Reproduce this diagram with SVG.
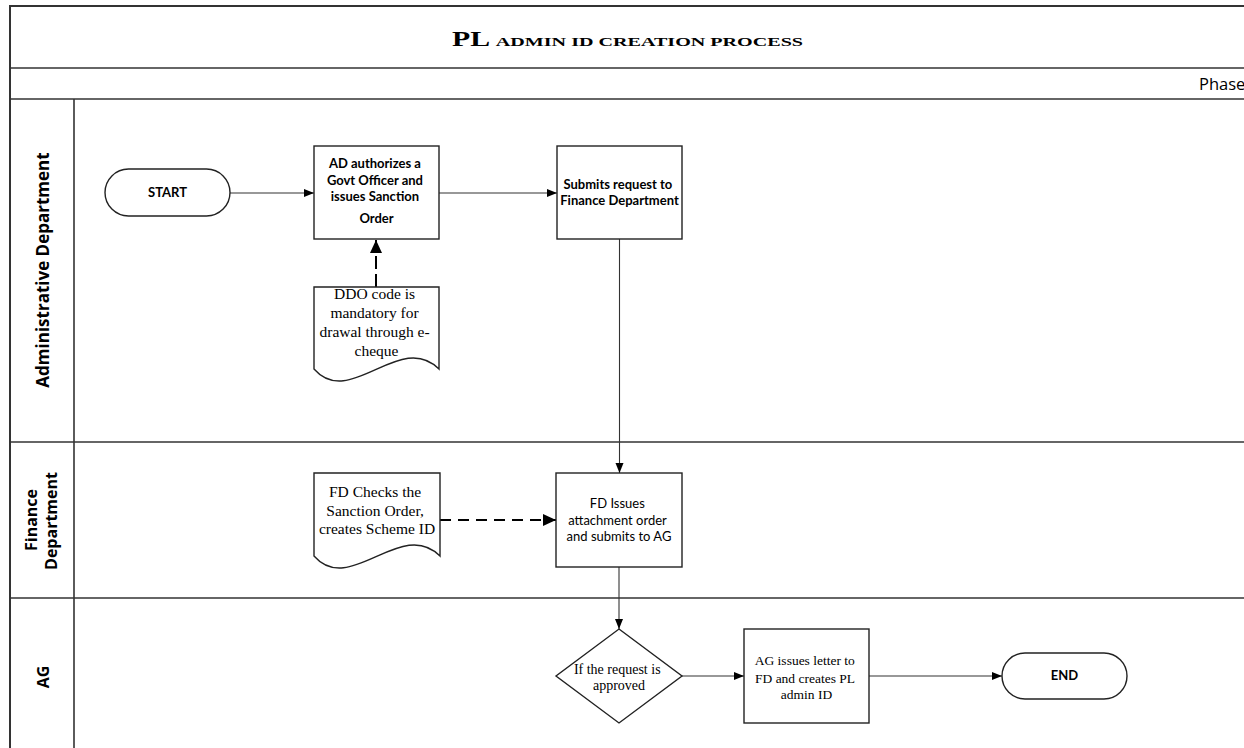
<svg xmlns="http://www.w3.org/2000/svg" width="1244" height="748" viewBox="0 0 1244 748">
  <defs>
    <marker id="arrow" markerUnits="userSpaceOnUse" markerWidth="10" markerHeight="10" viewBox="0 0 10 10" refX="10" refY="5" orient="auto">
      <path d="M0,1 L10,5 L0,9 Z" fill="#000"/>
    </marker>
    <marker id="arrowBig" markerUnits="userSpaceOnUse" markerWidth="13" markerHeight="13" viewBox="0 0 13 13" refX="13" refY="6.5" orient="auto">
      <path d="M0,0.5 L13,6.5 L0,12.5 Z" fill="#000"/>
    </marker>
    <style>
      .frame { fill: none; stroke: #333; stroke-width: 2; }
      .lane { fill: none; stroke: #333; stroke-width: 1.6; }
      .shape { fill: #fff; stroke: #222; stroke-width: 1.4; }
      .flow { fill: none; stroke: #333; stroke-width: 1.1; }
      .dash { fill: none; stroke: #000; stroke-width: 2; }
      .sans { font-family: Lato, "Open Sans", "Liberation Sans", sans-serif; fill: #000; }
      .bold { font-weight: bold; font-size: 13px; }
      .reg { font-size: 13px; }
      .serif { font-family: "Liberation Serif", "Times New Roman", serif; fill: #000; }
      .lbl { font-family: "Open Sans", Lato, "Liberation Sans", sans-serif; font-weight: bold; font-size: 16px; fill: #000; }
      .lbl-lg { font-size: 17px; }
    </style>
  </defs>

  <rect width="1244" height="748" fill="#fff"/>

  <!-- pool frame, title bar, phase bar and swimlanes -->
  <g id="pool">
    <rect class="frame" x="10" y="6" width="1250" height="760"/>
    <line class="lane" x1="10" y1="68" x2="1250" y2="68"/>
    <line class="lane" x1="10" y1="99" x2="1250" y2="99"/>
    <line class="lane" x1="74" y1="99" x2="74" y2="760"/>
    <line class="lane" x1="10" y1="442" x2="1250" y2="442"/>
    <line class="lane" x1="10" y1="598" x2="1250" y2="598"/>
    <text class="serif" x="452" y="46" font-weight="bold" textLength="351" lengthAdjust="spacingAndGlyphs"><tspan font-size="20">PL </tspan><tspan font-size="13.5">ADMIN ID CREATION PROCESS</tspan></text>
    <text x="1199" y="90" font-family="'Open Sans', Lato, sans-serif" font-size="16.5" fill="#000">Phase</text>
  </g>

  <g id="lane-admin">
    <text class="lbl lbl-lg" text-anchor="middle" transform="translate(49,270) rotate(-90)">Administrative Department</text>
  </g>
  <g id="lane-finance">
    <text class="lbl" text-anchor="middle" transform="translate(37,520) rotate(-90)">Finance</text>
    <text class="lbl" text-anchor="middle" transform="translate(57,521) rotate(-90)">Department</text>
  </g>
  <g id="lane-ag">
    <text class="lbl" text-anchor="middle" transform="translate(49,677) rotate(-90)">AG</text>
  </g>

  <!-- connectors -->
  <g id="connectors">
    <path class="flow" d="M230,193 H314" marker-end="url(#arrow)"/>
    <path class="flow" d="M439,193 H557" marker-end="url(#arrow)"/>
    <path class="flow" d="M619.5,239 V473" marker-end="url(#arrow)"/>
    <path class="dash" d="M376,287 V240" stroke-dasharray="13 5" marker-end="url(#arrowBig)"/>
    <path class="dash" d="M440,520 H556" stroke-dasharray="11 7" marker-end="url(#arrowBig)"/>
    <path class="flow" d="M619,567 V629" marker-end="url(#arrow)"/>
    <path class="flow" d="M682,676 H744" marker-end="url(#arrow)"/>
    <path class="flow" d="M869,676 H1002" marker-end="url(#arrow)"/>
  </g>

  <g id="start">
    <rect class="shape" x="105" y="169" width="125" height="47" rx="23.5"/>
    <text class="sans bold" x="167.5" y="197" text-anchor="middle">START</text>
  </g>

  <g id="ad-authorizes">
    <rect class="shape" x="314" y="146" width="125" height="93"/>
    <text class="sans bold" text-anchor="middle">
      <tspan x="376.5" y="168">AD authorizes a</tspan>
      <tspan x="376.5" y="185">Govt Officer and</tspan>
      <tspan x="376.5" y="201">issues Sanction</tspan>
      <tspan x="376.5" y="223">Order</tspan>
    </text>
  </g>

  <g id="ddo-note">
    <path class="shape" d="M314,287 H439 V369 C400,330 350,410 314,369 Z"/>
    <text class="serif" font-size="15.5" text-anchor="middle">
      <tspan x="376.5" y="299">DDO code is</tspan>
      <tspan x="376.5" y="318">mandatory for</tspan>
      <tspan x="376.5" y="337">drawal through e-</tspan>
      <tspan x="376.5" y="356">cheque</tspan>
    </text>
  </g>

  <g id="submit-request">
    <rect class="shape" x="557" y="146" width="125" height="93"/>
    <text class="sans bold" text-anchor="middle">
      <tspan x="619.5" y="189">Submits request to</tspan>
      <tspan x="619.5" y="205">Finance Department</tspan>
    </text>
  </g>

  <g id="fd-check">
    <path class="shape" d="M314,473 H440 V556 C401,517 350,597 314,556 Z"/>
    <text class="serif" font-size="15.5" text-anchor="middle">
      <tspan x="377" y="497">FD Checks the</tspan>
      <tspan x="377" y="516">Sanction Order,</tspan>
      <tspan x="377" y="534">creates Scheme ID</tspan>
    </text>
  </g>

  <g id="fd-issues">
    <rect class="shape" x="556" y="473" width="126" height="94"/>
    <text class="sans reg" text-anchor="middle">
      <tspan x="619" y="508">FD Issues</tspan>
      <tspan x="619" y="525">attachment order</tspan>
      <tspan x="619" y="541">and submits to AG</tspan>
    </text>
  </g>

  <g id="approval">
    <path class="shape" d="M619,629 L682,676 L619,723 L556,676 Z"/>
    <text class="serif" font-size="14" text-anchor="middle">
      <tspan x="619" y="674">If the request is</tspan>
      <tspan x="619" y="690">approved</tspan>
    </text>
  </g>

  <g id="ag-issues">
    <rect class="shape" x="744" y="629" width="125" height="94"/>
    <text class="serif" font-size="13.5" text-anchor="middle">
      <tspan x="806.5" y="665">AG issues letter to</tspan>
      <tspan x="806.5" y="683">FD and creates PL</tspan>
      <tspan x="806.5" y="699">admin ID</tspan>
    </text>
  </g>

  <g id="end">
    <rect class="shape" x="1002" y="653" width="125" height="46" rx="23"/>
    <text class="sans bold" x="1064.5" y="680" text-anchor="middle">END</text>
  </g>
</svg>
